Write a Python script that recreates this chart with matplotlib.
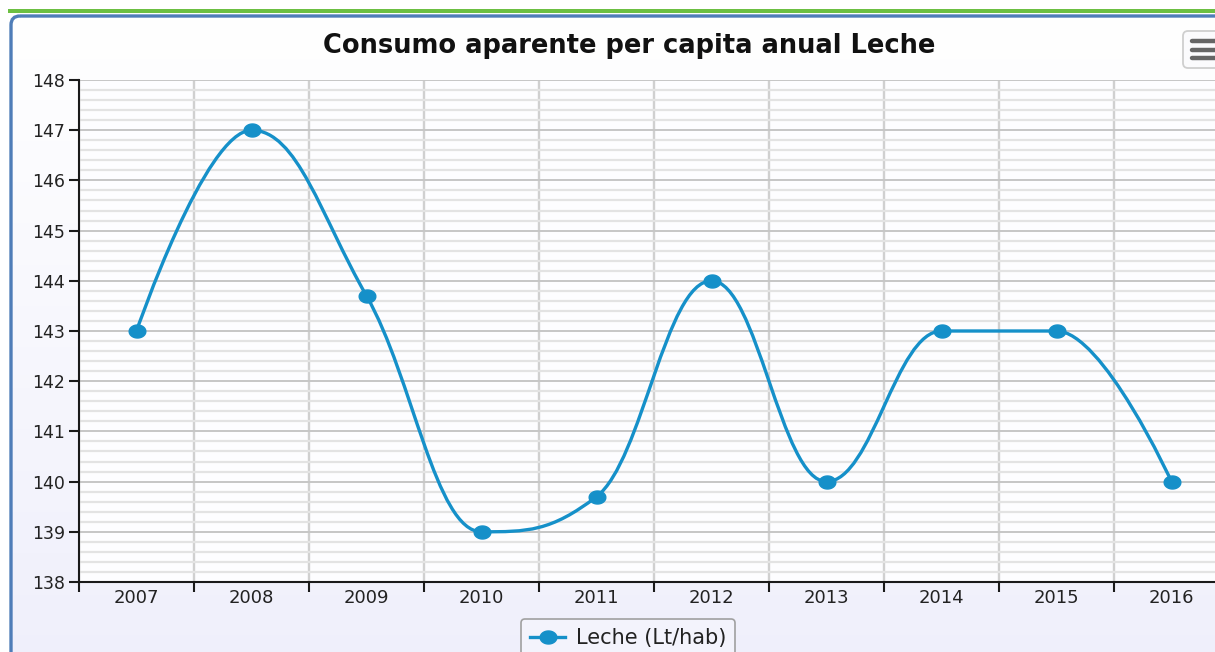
import numpy as np
import matplotlib
matplotlib.use('Agg')
import matplotlib.pyplot as plt
from matplotlib.path import Path
from matplotlib.patches import PathPatch, FancyBboxPatch
from matplotlib.lines import Line2D
from matplotlib.ticker import MultipleLocator, FixedLocator, NullFormatter, FixedFormatter

# ---------------- data ----------------
years = ['2007', '2008', '2009', '2010', '2011', '2012', '2013', '2014', '2015', '2016']
leche = [143.0, 147.0, 143.7, 139.0, 139.7, 144.0, 140.0, 143.0, 143.0, 140.0]
title = 'Consumo aparente per capita anual Leche'
series_name = 'Leche (Lt/hab)'
y_min, y_max = 138, 148

LINE_COLOR = '#1590c9'
W, H = 1215, 652


def spline_path(xs, ys, smoothing=1.5):
    """Highcharts-style spline (cubic Bezier with smoothed control points)."""
    n = len(xs)
    left = [None] * n
    right = [None] * n
    denom = smoothing + 1
    for i in range(1, n - 1):
        px, py = xs[i], ys[i]
        lx, ly = xs[i - 1], ys[i - 1]
        nx, ny = xs[i + 1], ys[i + 1]
        lcx = (smoothing * px + lx) / denom
        lcy = (smoothing * py + ly) / denom
        rcx = (smoothing * px + nx) / denom
        rcy = (smoothing * py + ny) / denom
        corr = 0.0
        if rcx != lcx:
            corr = ((rcy - lcy) * (rcx - px)) / (rcx - lcx) + py - rcy
        lcy += corr
        rcy += corr
        if lcy > ly and lcy > py:
            lcy = max(ly, py); rcy = 2 * py - lcy
        elif lcy < ly and lcy < py:
            lcy = min(ly, py); rcy = 2 * py - lcy
        if rcy > ny and rcy > py:
            rcy = max(ny, py); lcy = 2 * py - rcy
        elif rcy < ny and rcy < py:
            rcy = min(ny, py); lcy = 2 * py - rcy
        left[i] = (lcx, lcy)
        right[i] = (rcx, rcy)
    verts = [(xs[0], ys[0])]
    codes = [Path.MOVETO]
    for i in range(1, n):
        c1 = right[i - 1] if right[i - 1] is not None else (xs[i - 1], ys[i - 1])
        c2 = left[i] if left[i] is not None else (xs[i], ys[i])
        verts += [c1, c2, (xs[i], ys[i])]
        codes += [Path.CURVE4] * 3
    return Path(verts, codes)


# slightly wide elliptical marker (the reference is horizontally stretched)
_t = np.linspace(0, 2 * np.pi, 64)
ELLIPSE = np.column_stack([np.cos(_t), 0.78 * np.sin(_t)])

fig = plt.figure(figsize=(W / 100, H / 100), dpi=100)
fig.patch.set_facecolor('white')

# ---------- background decorations (pixel coordinates) ----------
bg = fig.add_axes([0, 0, 1, 1], zorder=-10)
bg.set_xlim(0, W)
bg.set_ylim(H, 0)
bg.axis('off')

# green top line
bg.add_patch(plt.Rectangle((8, 9), W, 4, facecolor='#6cbf42', edgecolor='none'))

# panel with gradient fill
panel = FancyBboxPatch((11, 16), 1260, 700, boxstyle='round,pad=0,rounding_size=9',
                       facecolor='none', edgecolor='#4f7db8', linewidth=2.4, zorder=3)
grad = np.linspace(0, 1, 256).reshape(-1, 1)
c_top = np.array([1.0, 1.0, 1.0])
c_bot = np.array([0.935, 0.935, 0.985])
img = c_top + (c_bot - c_top) * grad[..., None]
img = np.repeat(img, 2, axis=1)
im = bg.imshow(img, extent=(11, W + 50, H + 50, 16), aspect='auto', zorder=1)
clip = FancyBboxPatch((11, 16), 1260, 700, boxstyle='round,pad=0,rounding_size=9',
                      transform=bg.transData, facecolor='none', edgecolor='none')
bg.add_patch(clip)
im.set_clip_path(clip)
bg.add_patch(panel)

# menu (context) button
btn = FancyBboxPatch((1183, 31), 60, 37, boxstyle='round,pad=0,rounding_size=5',
                     facecolor='#fbfbfd', edgecolor='#cfcfcf', linewidth=1.3, zorder=4)
bg.add_patch(btn)
for yy in (40.5, 49.5, 58):
    bg.plot([1192, 1230], [yy, yy], color='#666666', lw=3.2, solid_capstyle='round', zorder=5)

# ---------------- main chart ----------------
left_px, right_px, top_px, bot_px = 79, 1229, 80, 582
ax = fig.add_axes([left_px / W, 1 - bot_px / H, (right_px - left_px) / W, (bot_px - top_px) / H],
                  zorder=1)
ax.set_facecolor('#fdfdff')

x = np.arange(len(years))
ax.set_xlim(-0.5, len(years) - 0.5)
ax.set_ylim(y_min, y_max)

# grid
ax.yaxis.set_major_locator(MultipleLocator(1))
ax.yaxis.set_minor_locator(MultipleLocator(0.2))
ax.xaxis.set_major_locator(FixedLocator(np.arange(-0.5, len(years), 1)))
ax.xaxis.set_major_formatter(NullFormatter())
ax.xaxis.set_minor_locator(FixedLocator(x))
ax.xaxis.set_minor_formatter(FixedFormatter(years))

ax.grid(which='minor', axis='y', color='#e3e3e3', linewidth=1.6)
ax.grid(which='major', axis='y', color='#c6c6c6', linewidth=1.4)
ax.grid(which='major', axis='x', color='#d0d0d0', linewidth=1.7)
ax.set_axisbelow(True)

for s in ('top', 'right'):
    ax.spines[s].set_visible(False)
for s in ('left', 'bottom'):
    ax.spines[s].set_color('#1a1a1a')
    ax.spines[s].set_linewidth(1.5)

ax.tick_params(axis='y', which='major', direction='out', length=7, width=1.5, color='#1a1a1a',
               labelsize=12.5, labelcolor='#222222', pad=3)
ax.tick_params(axis='y', which='minor', length=0)
ax.tick_params(axis='x', which='major', direction='out', length=7, width=1.5, color='#1a1a1a')
ax.tick_params(axis='x', which='minor', length=0, labelsize=13, labelcolor='#222222', pad=5)

# spline line + markers
path = spline_path(list(x.astype(float)), leche)
ax.add_patch(PathPatch(path, facecolor='none', edgecolor=LINE_COLOR, linewidth=2.4,
                       zorder=3, clip_on=False))
ax.plot(x, leche, linestyle='none', marker=ELLIPSE, markersize=12, color=LINE_COLOR,
        zorder=4, clip_on=False)

# title
fig.text(629 / W, 1 - 46 / H, title, ha='center', va='center', fontsize=18.5,
         fontweight='bold', color='#111111')

# legend
handle = Line2D([], [], color=LINE_COLOR, lw=2.4, marker=ELLIPSE, markersize=12)
leg = fig.legend([handle], [series_name], loc='upper center',
                 bbox_to_anchor=(628 / W, 1 - 619 / H), fontsize=15, frameon=True,
                 fancybox=True, handlelength=1.7, handletextpad=0.5, borderpad=0.45,
                 borderaxespad=0, edgecolor='#a0a0a0', facecolor='#f3f3fc', framealpha=1)
leg.get_frame().set_linewidth(1.2)
for t in leg.get_texts():
    t.set_color('#222222')

fig.savefig('out.png', dpi=100)
